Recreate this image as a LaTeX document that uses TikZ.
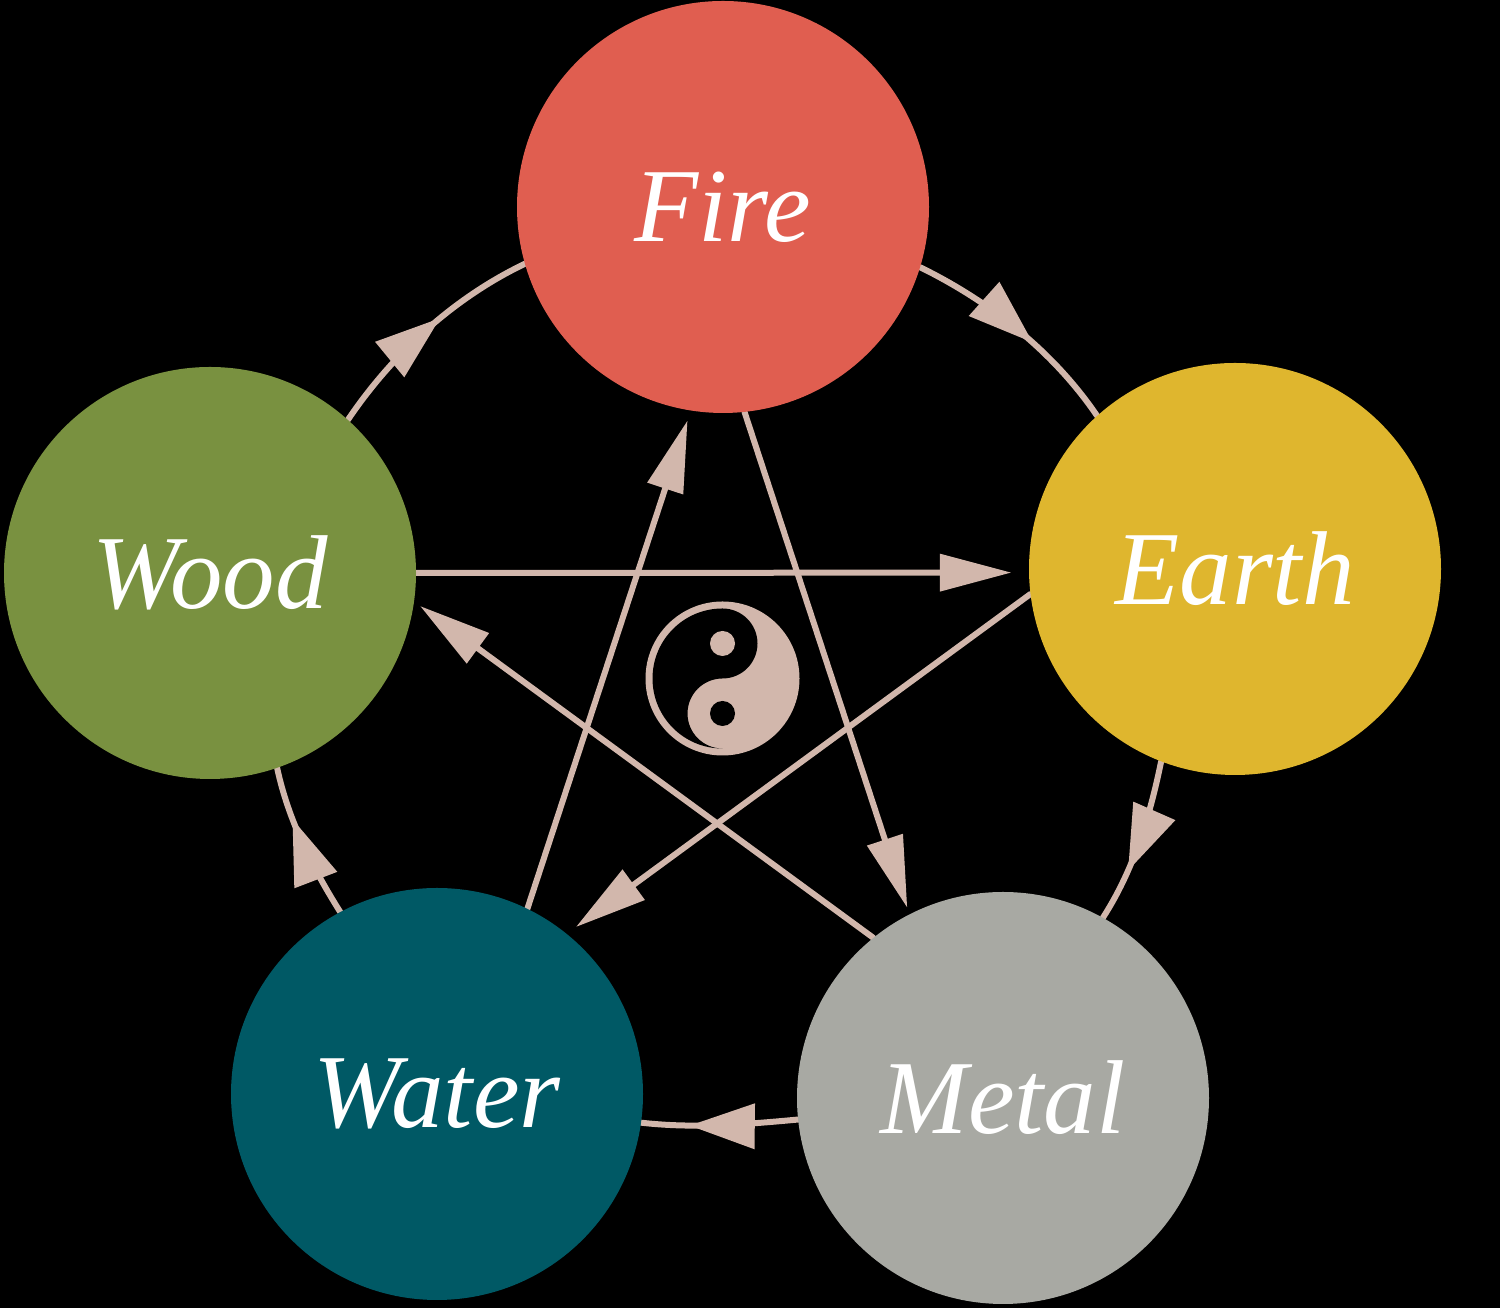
\documentclass[tikz,border=0pt]{standalone}
\usepackage{fontspec}
\setmainfont{Liberation Serif}
\usetikzlibrary{arrows.meta,decorations.markings}
\definecolor{firec}{HTML}{E05E50}
\definecolor{earthc}{HTML}{DFB62E}
\definecolor{woodc}{HTML}{799140}
\definecolor{waterc}{HTML}{005965}
\definecolor{metalc}{HTML}{A8A9A3}
\definecolor{linec}{HTML}{D2B7AC}
\pgfdeclarelayer{bg}
\pgfdeclarelayer{conn}
\pgfsetlayers{bg,conn,main}
\tikzset{
  element/.style={circle, minimum size=412pt, inner sep=0pt, text=white,
    font=\fontsize{105}{105}\selectfont\itshape},
  conn/.style={draw=linec, line width=6pt, line cap=round},
  star/.style={conn, -{Triangle[length=71pt,width=38pt,line width=0pt]}},
  ring/.style={conn, looseness=0.86,
    decoration={markings, mark=at position #1 with
      {\arrow{Triangle[length=65pt,width=46pt,line width=0pt]}}},
    postaction={decorate}},
}
\begin{document}
\begin{tikzpicture}[x=1pt,y=1pt]
\useasboundingbox (0,0) rectangle (1500,1308);
\begin{pgfonlayer}{bg}
  \fill[black] (0,0) rectangle (1500,1308);
\end{pgfonlayer}

\node[element, fill=firec]  (fire)  at (723,1101) {Fire};
\node[element, fill=earthc] (earth) at (1235,739) {Earth};
\node[element, fill=woodc]  (wood)  at (210,735)  {Wood};
\node[element, fill=waterc] (water) at (437,214)  {Water};
\node[element, fill=metalc] (metal) at (1003,210) {Metal};

\begin{pgfonlayer}{conn}
  % generating cycle (outer arcs)
  \draw[ring=0.58]  (fire.343.3)  to[out=-26.15,in=124.2]  (earth.132.9);
  \draw[ring=0.68]  (earth.249.8) to[out=-101.55,in=57.2]  (metal.61.6);
  \draw[ring=0.69]  (metal.186.8) to[out=185.3,in=-6.5]    (water.352.5);
  \draw[ring=0.66]  (water.118.5) to[out=122.2,in=-77.9]   (wood.289.6);
  \draw[ring=0.576] (wood.48.5)   to[out=55.96,in=-154.35] (fire.196.2);
  % controlling cycle (star)
  \draw[star, shorten >=18pt]  (wood.east)    -- (earth.181);
  \draw[star, shorten >=12pt]  (earth.187.5)  -- (water.51);
  \draw[star, shorten >=11pt]  (water.64.8)   -- (fire.261);
  \draw[star, shorten >=7.5pt] (fire.276.4)   -- (metal.117.4);
  \draw[star, shorten >=8pt]   (metal.129.1)  -- (wood.352.7);
\end{pgfonlayer}

% yin-yang
\begin{scope}[shift={(722.5,629.5)}]
  \fill[linec] (0,0) circle[radius=77];
  \fill[black] (0,70) arc[start angle=90,end angle=270,radius=70]
     arc[start angle=270,end angle=90,radius=35]
     arc[start angle=-90,end angle=90,radius=35] -- cycle;
  \fill[linec] (0,35) circle[radius=12.5];
  \fill[black] (0,-35) circle[radius=12.5];
\end{scope}
\end{tikzpicture}
\end{document}
